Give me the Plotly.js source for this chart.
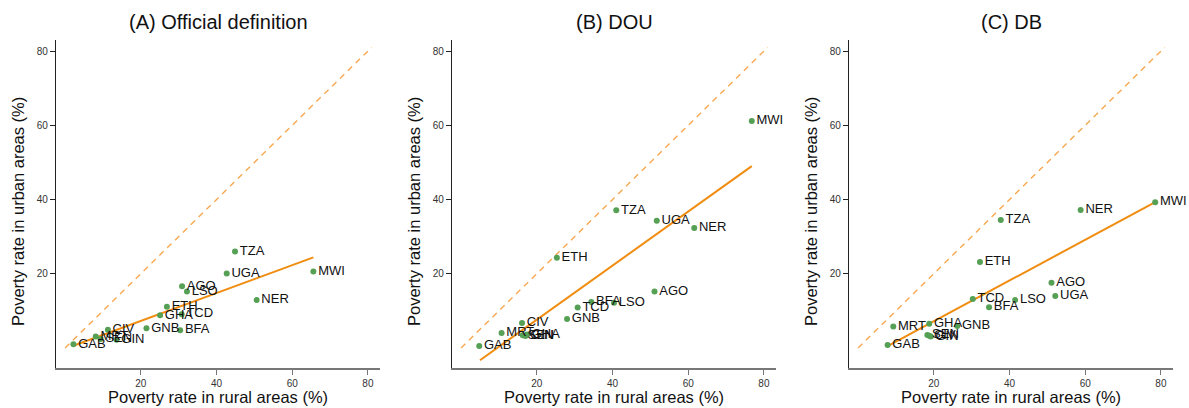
<!DOCTYPE html>
<html>
<head>
<meta charset="utf-8">
<script src="https://cdn.plot.ly/plotly-3.0.1.min.js"></script>
<style>html,body{margin:0;padding:0;background:#fff;}#chart{width:1189px;height:408px;}</style>
</head>
<body>
<div id="chart"></div>
<script>
// Countries (same order in every panel)
const countries = ["AGO","BFA","CIV","ETH","GAB","GHA","GIN","GNB","LSO","MRT","MWI","NER","SEN","TCD","TZA","UGA"];

// (A) Official definition
const ruralA = [30.9, 30.4, 11.3, 26.9, 2.2, 25.1, 13.6, 21.5, 32.2, 8.1, 65.6, 50.6, 9.4, 30.8, 44.9, 42.7];
const urbanA = [16.6, 4.8, 4.9, 11.1, 1.0, 8.8, 2.2, 5.3, 15.2, 3.1, 20.6, 12.9, 2.4, 9.1, 26.0, 20.1];
const fitA_x = [2.2, 65.6];
const fitA_y = [0.6, 24.4];

// (B) DOU
const ruralB = [51.1, 34.4, 16.1, 25.3, 4.8, 17.4, 17.0, 28.0, 40.4, 10.7, 76.8, 61.6, 16.3, 30.8, 41.0, 51.7];
const urbanB = [15.2, 12.4, 6.7, 24.3, 0.5, 3.6, 3.2, 7.8, 12.2, 4.0, 61.2, 32.3, 3.4, 10.9, 37.1, 34.3];
const fitB_x = [5.0, 76.8];
const fitB_y = [-3.3, 49.0];

// (C) DB
const ruralC = [51.1, 34.6, 18.8, 32.2, 7.8, 18.8, 19.2, 26.2, 41.5, 9.3, 78.5, 58.8, 18.3, 30.3, 37.7, 52.1];
const urbanC = [17.6, 11.0, 3.3, 23.2, 0.8, 6.5, 3.1, 5.9, 12.9, 5.8, 39.3, 37.2, 3.5, 13.2, 34.5, 14.0];
const fitC_x = [7.8, 78.5];
const fitC_y = [0.5, 39.3];

// 45-degree reference line
const diag = [0, 81];

const panelTitles = ["(A) Official definition", "(B) DOU", "(C) DB"];
const xTitle = "Poverty rate in rural areas (%)";
const yTitle = "Poverty rate in urban areas (%)";
const tickVals = [20, 40, 60, 80];

const panels = [
  {rx: ruralA, uy: urbanA, fx: fitA_x, fy: fitA_y},
  {rx: ruralB, uy: urbanB, fx: fitB_x, fy: fitB_y},
  {rx: ruralC, uy: urbanC, fx: fitC_x, fy: fitC_y}
];

const W = 1189, H = 408;
const xLeft = [56, 452, 849];
const plotW = 324;
const yTop = 40, yBot = 368;

const FONT = "Liberation Sans, Arial, Helvetica, sans-serif";
const traces = [];
const layout = {
  width: W, height: H,
  margin: {l: 0, r: 0, t: 0, b: 0},
  paper_bgcolor: "#fff", plot_bgcolor: "#fff",
  showlegend: false,
  font: {family: FONT, color: "#111"},
  annotations: []
};

panels.forEach((p, i) => {
  const xa = i === 0 ? "x" : "x" + (i + 1);
  const ya = i === 0 ? "y" : "y" + (i + 1);
  const xk = i === 0 ? "xaxis" : "xaxis" + (i + 1);
  const yk = i === 0 ? "yaxis" : "yaxis" + (i + 1);
  const d0 = xLeft[i] / W, d1 = (xLeft[i] + plotW) / W;
  layout[xk] = {
    domain: [d0, d1], range: [-2.4, 83.2], anchor: ya,
    showgrid: false, zeroline: false,
    showline: true, linecolor: "#777", linewidth: 1.5,
    ticks: "outside", ticklen: 5, tickcolor: "#777", tickwidth: 1,
    tickvals: tickVals, ticktext: tickVals.map(String),
    tickfont: {size: 10, color: "#333", family: FONT}
  };
  layout[yk] = {
    domain: [1 - yBot / H, 1 - yTop / H], range: [-5.4, 83.0], anchor: xa,
    showgrid: false, zeroline: false,
    showline: true, linecolor: "#222", linewidth: 1.2,
    ticks: "outside", ticklen: 5, tickcolor: "#222", tickwidth: 1,
    tickvals: tickVals, ticktext: tickVals.map(String),
    tickfont: {size: 10, color: "#333", family: FONT}
  };
  traces.push({
    type: "scatter", mode: "lines", x: diag, y: diag, xaxis: xa, yaxis: ya,
    line: {color: "#f7a850", width: 1.4, dash: "6px,5px"}, hoverinfo: "skip"
  });
  traces.push({
    type: "scatter", mode: "lines", x: p.fx, y: p.fy, xaxis: xa, yaxis: ya,
    line: {color: "#f08c10", width: 2}, hoverinfo: "skip"
  });
  traces.push({
    type: "scatter", mode: "markers+text", x: p.rx, y: p.uy, xaxis: xa, yaxis: ya,
    text: countries, textposition: "middle right", cliponaxis: false,
    textfont: {size: 13, color: "#111", family: FONT},
    marker: {color: "#55a055", size: 6}
  });
  const cx = (xLeft[i] + plotW / 2) / W;
  layout.annotations.push({
    text: panelTitles[i], xref: "paper", yref: "paper",
    x: cx, y: 1 - 22 / H, xanchor: "center", yanchor: "middle",
    showarrow: false, font: {size: 20, color: "#111", family: FONT}
  });
  layout.annotations.push({
    text: xTitle, xref: "paper", yref: "paper",
    x: cx, y: 1 - 397 / H, xanchor: "center", yanchor: "middle",
    showarrow: false, font: {size: 16.5, color: "#111", family: FONT}
  });
  layout.annotations.push({
    text: yTitle, xref: "paper", yref: "paper", textangle: -90,
    x: (xLeft[i] - 38) / W, y: 1 - ((yTop + yBot) / 2 + 8) / H, xanchor: "center", yanchor: "middle",
    showarrow: false, font: {size: 16.5, color: "#111", family: FONT}
  });
});

Plotly.newPlot("chart", traces, layout, {staticPlot: true, displayModeBar: false});
</script>
</body>
</html>
